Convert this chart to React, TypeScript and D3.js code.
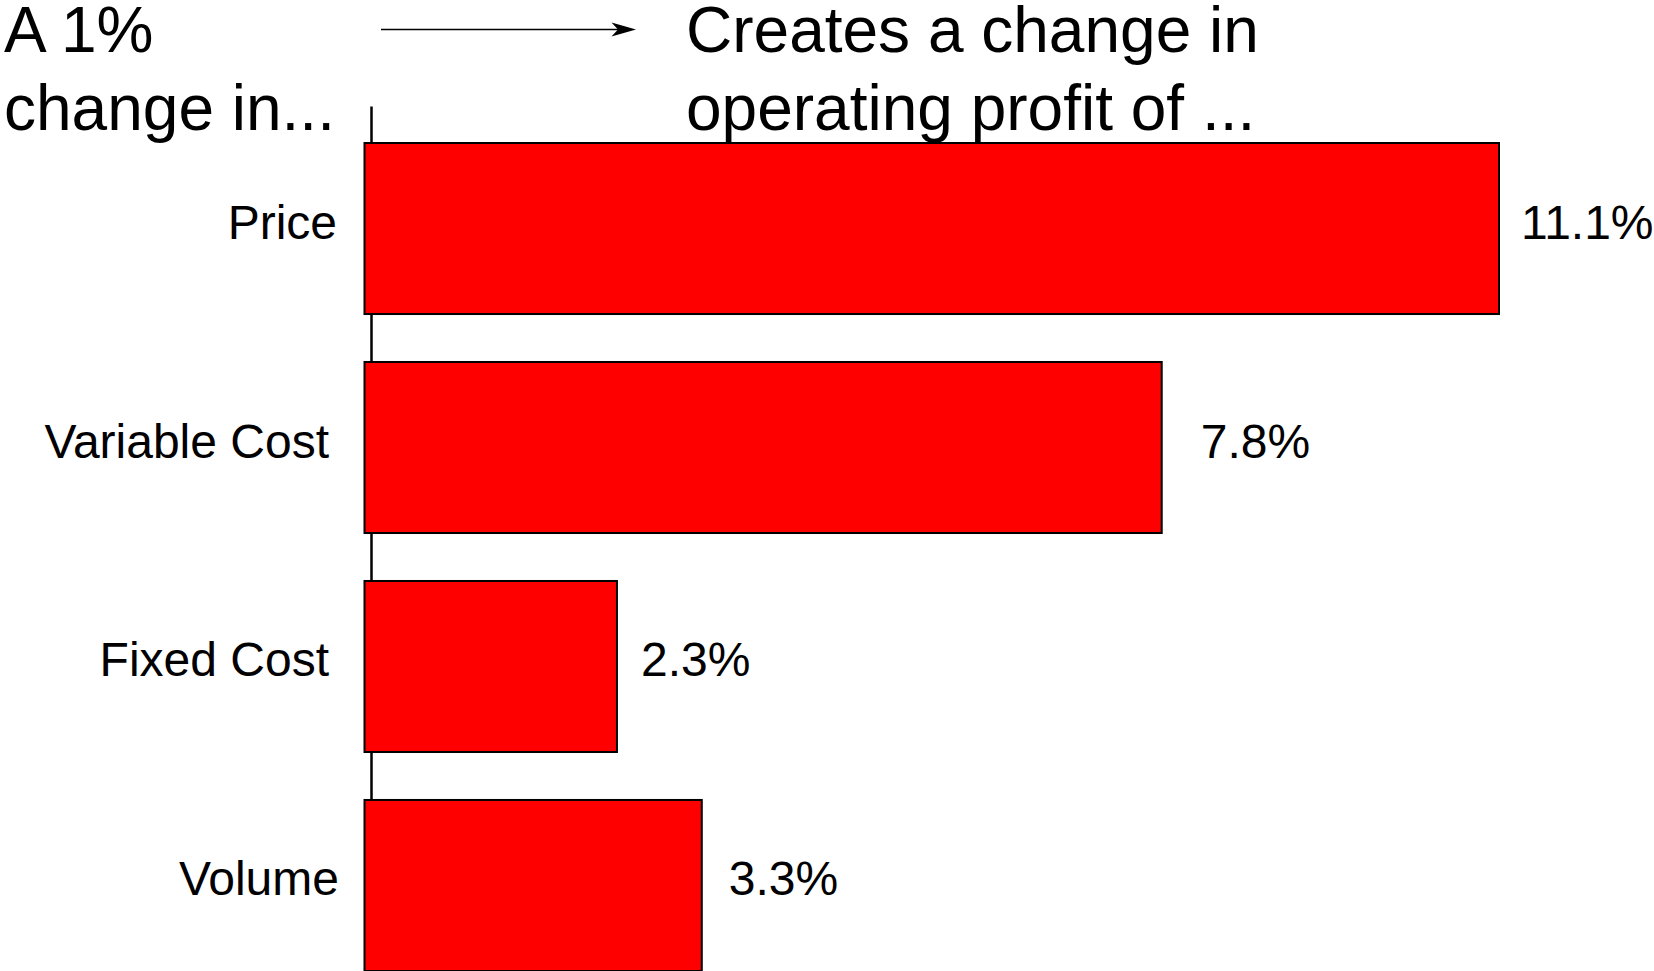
import React from "react";
import * as d3 from "d3";

const categories = ["Price", "Variable Cost", "Fixed Cost", "Volume"];
const barValues = [11.1, 7.8, 2.47, 3.3];
const valueLabels = ["11.1%", "7.8%", "2.3%", "3.3%"];
const leftTitle = ["A 1%", "change in..."];
const rightTitle = ["Creates a change in", "operating profit of ..."];

const W = 1654;
const H = 971;
const FONT = "'Liberation Sans', Arial, Helvetica, sans-serif";
const labelGaps = [22, 39, 24, 27];
const catRightX = [337, 329, 329, 339];

export default function App() {
  const x = d3.scaleLinear().domain([0, 11.1]).range([364.5, 1499]);
  const y = d3
    .scaleBand<string>()
    .domain(categories)
    .range([143, 971])
    .paddingInner(0.219)
    .paddingOuter(0);
  const bw = y.bandwidth();

  return (
    <svg
      width={W}
      height={H}
      viewBox={`0 0 ${W} ${H}`}
      style={{ position: "absolute", left: 0, top: 0, display: "block", background: "#fff" }}
      fontFamily={FONT}
    >
      <rect x={0} y={0} width={W} height={H} fill="#ffffff" />
      {/* axis line */}
      <line x1={371.5} x2={371.5} y1={106.5} y2={H} stroke="#000" strokeWidth={2.5} />
      {/* bars */}
      {categories.map((c, i) => (
        <rect
          key={c}
          x={x(0)}
          y={y(c)!}
          width={x(barValues[i]) - x(0)}
          height={bw}
          fill="#ff0000"
          stroke="#000"
          strokeWidth={2}
        />
      ))}
      {/* category labels */}
      {categories.map((c, i) => (
        <text
          key={"c" + c}
          x={catRightX[i]}
          y={y(c)! + bw / 2 + 10}
          textAnchor="end"
          fontSize={48}
          fill="#000"
        >
          {c}
        </text>
      ))}
      {/* value labels */}
      {categories.map((c, i) => (
        <text
          key={"v" + c}
          x={x(barValues[i]) + labelGaps[i]}
          y={y(c)! + bw / 2 + 10}
          fontSize={48}
          fill="#000"
        >
          {valueLabels[i]}
        </text>
      ))}
      {/* arrow */}
      <line x1={381} x2={628} y1={29.5} y2={29.5} stroke="#000" strokeWidth={1.6} />
      <path d="M636,29.5 L611.5,22.4 L618,29.5 L611.5,36.6 Z" fill="#000" />
      {/* titles */}
      {leftTitle.map((t, i) => (
        <text key={"l" + i} x={4} y={52.3 + i * 77.7} fontSize={64} fill="#000">
          {t}
        </text>
      ))}
      {rightTitle.map((t, i) => (
        <text key={"r" + i} x={686} y={52.3 + i * 77.7} fontSize={64} fill="#000">
          {t}
        </text>
      ))}
    </svg>
  );
}
